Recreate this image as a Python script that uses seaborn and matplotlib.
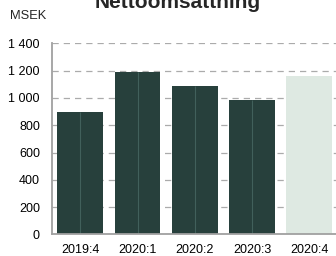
import matplotlib
matplotlib.use('Agg')
import matplotlib.pyplot as plt
import seaborn as sns
import pandas as pd
from matplotlib.ticker import FuncFormatter

sns.set_style('white')
plt.rcParams['font.family'] = ['Liberation Sans', 'DejaVu Sans']

quarters = ['2019:4', '2020:1', '2020:2', '2020:3', '2020:4']
revenue = [895, 1190, 1090, 985, 1160]
bar_colors = ['#23443f', '#23443f', '#23443f', '#23443f', '#dcebe1']
yticks = [0, 200, 400, 600, 800, 1000, 1200, 1400]

frame = pd.DataFrame({'quarter': quarters, 'value': revenue})

fig = plt.figure(figsize=(3.36, 2.56), dpi=100)
ax = fig.add_axes([51.7 / 336, 21.6 / 256, 286.25 / 336, 191 / 256])

sns.barplot(data=frame, x='quarter', y='value', hue='quarter',
            palette=bar_colors, width=0.8, legend=False,
            edgecolor='none', ax=ax, zorder=3)

# thin split line in the middle of the dark bars
for patch, col in zip(ax.patches, bar_colors):
    if col != bar_colors[-1]:
        mid = patch.get_x() + patch.get_width() / 2
        ax.vlines(mid, 0, patch.get_height(), color='#41605b',
                  linewidth=0.8, zorder=4)

ax.set_xlim(-0.5, 4.5)
ax.set_ylim(0, 1400)
ax.set_yticks(yticks)
ax.yaxis.set_major_formatter(
    FuncFormatter(lambda v, p: f'{int(v):,}'.replace(',', ' ')))
ax.yaxis.grid(True, color='#ababab', linestyle=(0, (5, 4)), linewidth=0.9,
              zorder=1)
ax.xaxis.grid(False)

for side in ['top', 'right']:
    ax.spines[side].set_visible(False)
for side in ['left', 'bottom']:
    ax.spines[side].set_color('#a0a0a0')
    ax.spines[side].set_linewidth(1.3)
    ax.spines[side].set_zorder(5)

ax.tick_params(axis='y', length=0, pad=8.5, labelsize=9, labelcolor='black')
ax.tick_params(axis='x', length=0, pad=7.0, labelsize=9, labelcolor='black')
ax.set_xlabel('')
ax.set_ylabel('')

fig.text(10 / 336, 1 - 16 / 256, 'MSEK', fontsize=9.3, ha='left', va='center')
fig.text(177.8 / 336, 1 - 7.5 / 256, 'Nettoomsättning', fontsize=15,
         fontweight='bold', ha='center', va='baseline')

fig.savefig('out.png', dpi=100)
